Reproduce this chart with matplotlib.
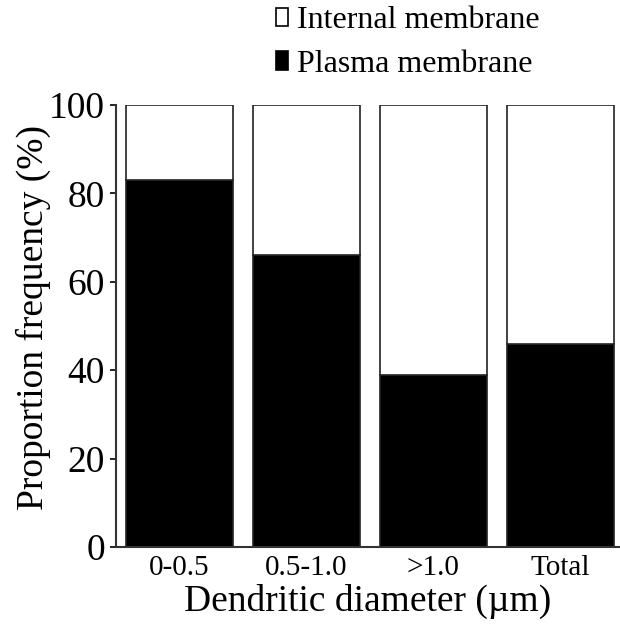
import matplotlib.pyplot as plt
from matplotlib.patches import Patch
import numpy as np

# data
categories = ['0-0.5', '0.5-1.0', '>1.0', 'Total']
plasma = [83, 66, 39, 46]
internal = [17, 34, 61, 54]

plt.rcParams['font.family'] = ['Liberation Serif', 'DejaVu Serif']

fig = plt.figure(figsize=(6.2, 6.34), dpi=100)
ax = fig.add_axes([116 / 620, 1 - 547 / 634, 1 - 116 / 620, (547 - 105) / 634])

x = np.arange(len(categories))
ax.bar(x, plasma, width=0.84, color='black', edgecolor='#222222', linewidth=1.2)
ax.bar(x, internal, width=0.84, bottom=plasma, color='white', edgecolor='#222222', linewidth=1.2)

ax.set_xlim(-0.5, 3.47)
ax.set_ylim(0, 100)
ax.set_yticks([0, 20, 40, 60, 80, 100])
ax.set_xticks(x)
ax.set_xticklabels(categories, fontsize=21)
ax.tick_params(axis='y', direction='out', length=4, width=1.2, labelsize=27, pad=4)
ax.tick_params(axis='x', length=0, pad=6)

for s in ['top', 'right']:
    ax.spines[s].set_visible(False)
for s in ['left', 'bottom']:
    ax.spines[s].set_linewidth(1.5)
    ax.spines[s].set_color('#333333')

ax.set_ylabel('Proportion frequency (%)', fontsize=27, labelpad=-1.5)
ax.yaxis.label.set_y(0.52)
ax.set_xlabel('Dendritic diameter (\u00b5m)', fontsize=27, labelpad=2)

handles = [Patch(facecolor='white', edgecolor='black', linewidth=1.2),
           Patch(facecolor='black', edgecolor='black', linewidth=1.2)]
fig.legend(handles, ['Internal membrane', 'Plasma membrane'],
           loc='upper left', bbox_to_anchor=(263 / 620, 1.01),
           frameon=False, fontsize=23, handlelength=0.37, handleheight=0.5,
           handletextpad=0.3, labelspacing=0.45, borderaxespad=0.0)

fig.savefig('out.png', dpi=100)
